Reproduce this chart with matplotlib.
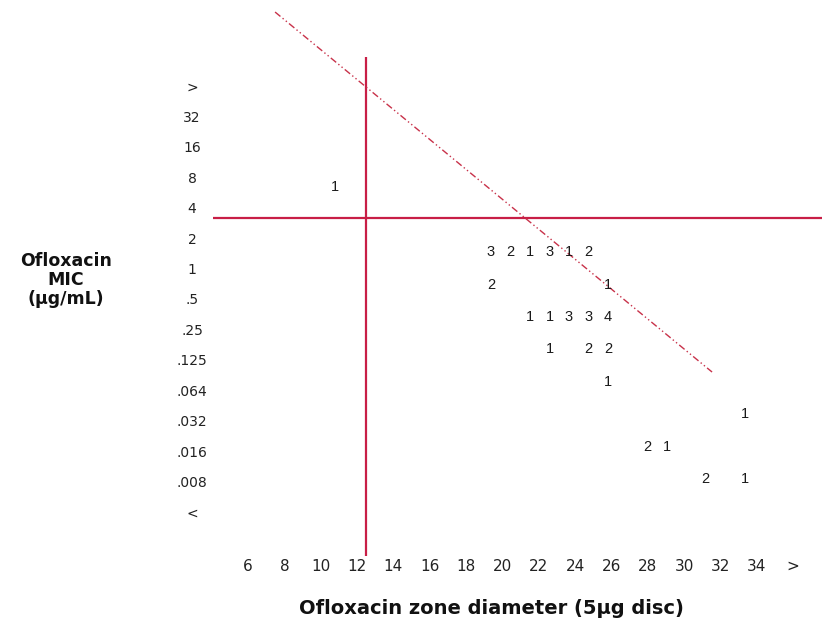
import matplotlib
matplotlib.use("Agg")
import matplotlib.pyplot as plt

# ---------------- data ----------------
zone_tick_values = [6, 8, 10, 12, 14, 16, 18, 20, 22, 24, 26, 28, 30, 32, 34, 36]
zone_tick_labels = ["6", "8", "10", "12", "14", "16", "18", "20", "22", "24",
                    "26", "28", "30", "32", "34", ">"]
mic_labels = ["<", ".008", ".016", ".032", ".064", ".125", ".25", ".5",
              "1", "2", "4", "8", "16", "32", ">"]

# counts of isolates per (zone diameter, MIC) cell
cell_zone = [12,
             20, 21, 22, 23, 24, 25,
             20, 26,
             22, 23, 24, 25, 26,
             23, 25, 26,
             26,
             33,
             28, 29,
             31, 33]
cell_mic = ["4",
            "1", "1", "1", "1", "1", "1",
            ".5", ".5",
            ".25", ".25", ".25", ".25", ".25",
            ".125", ".125", ".125",
            ".064",
            ".032",
            ".016", ".016",
            ".008", ".008"]
cell_count = [1,
              3, 2, 1, 3, 1, 2,
              2, 1,
              1, 1, 3, 3, 4,
              1, 2, 2,
              1,
              1,
              2, 1,
              2, 1]

zone_breakpoint = 12.5          # vertical red line (zone diameter)
mic_breakpoint_pos = 9.66       # horizontal red line (between MIC 2 and 4)
regression_zone = [7.49, 31.54]  # dash-dot line end points
regression_mic_pos = [16.43, 4.60]

# ---------------- layout ----------------
W, H = 822, 624
fig = plt.figure(figsize=(W / 100, H / 100), dpi=100)
fig.patch.set_facecolor("white")

AX_L, AX_R, AX_T, AX_B = 213, 822, 0, 556   # pixel box of the plot area
rect = [AX_L / W, (H - AX_B) / H, (AX_R - AX_L) / W, (AX_B - AX_T) / H]

# label grid (tick labels): px per mm and px per MIC row
def zx(px):
    return 6 + (px - 248) / 18.17

def my(py):
    return (512 - py) / 30.43

ax = fig.add_axes(rect)
ax.set_xlim(zx(AX_L), zx(AX_R))
ax.set_ylim(my(AX_B), my(AX_T))
for s in ax.spines.values():
    s.set_visible(False)
ax.set_xticks(zone_tick_values)
ax.set_xticklabels(zone_tick_labels, fontsize=11, family="DejaVu Sans", color="#222222")
ax.set_yticks(range(len(mic_labels)))
ax.set_yticklabels(mic_labels, fontsize=10, family="DejaVu Sans", color="#222222")
ax.tick_params(axis="x", length=0, pad=2)
ax.tick_params(axis="y", length=0, pad=15)
for lbl in ax.get_yticklabels():
    lbl.set_ha("center")

red = "#c81e46"
ax.axhline(mic_breakpoint_pos, color=red, lw=1.6, xmin=0, xmax=1)
ax.plot([zone_breakpoint, zone_breakpoint], [my(57), my(AX_B)], color=red, lw=1.6,
        solid_capstyle="butt")
ax.plot(regression_zone, regression_mic_pos, color="#c8324a", lw=1.0,
        linestyle=(0, (5, 2, 1, 2, 1, 2)))

# data grid (the count table is drawn on its own slightly larger grid)
def dzx(px):
    return 12 + (px - 335) / 19.5

def dmy(py):
    return 1 + (479 - py) / 32.4

ax2 = fig.add_axes(rect, frameon=False)
ax2.set_xlim(dzx(AX_L), dzx(AX_R))
ax2.set_ylim(dmy(AX_B), dmy(AX_T))
ax2.set_xticks([])
ax2.set_yticks([])
for z, m, c in zip(cell_zone, cell_mic, cell_count):
    ax2.text(z, mic_labels.index(m), str(c), ha="center", va="center",
             fontsize=10.5, family="Liberation Sans", color="#1a1a1a")

# axis titles
fig.text(491 / W, 1 - 608 / H, "Ofloxacin zone diameter (5\u00b5g disc)",
         ha="center", va="center", fontsize=14, fontweight="bold",
         family="DejaVu Sans", color="#111111")
fig.text(66 / W, 1 - 280 / H, "Ofloxacin\nMIC\n(\u00b5g/mL)",
         ha="center", va="center", fontsize=12.5, fontweight="bold",
         family="DejaVu Sans", color="#111111", linespacing=1.1)

fig.savefig("out.png", dpi=100, facecolor="white")
